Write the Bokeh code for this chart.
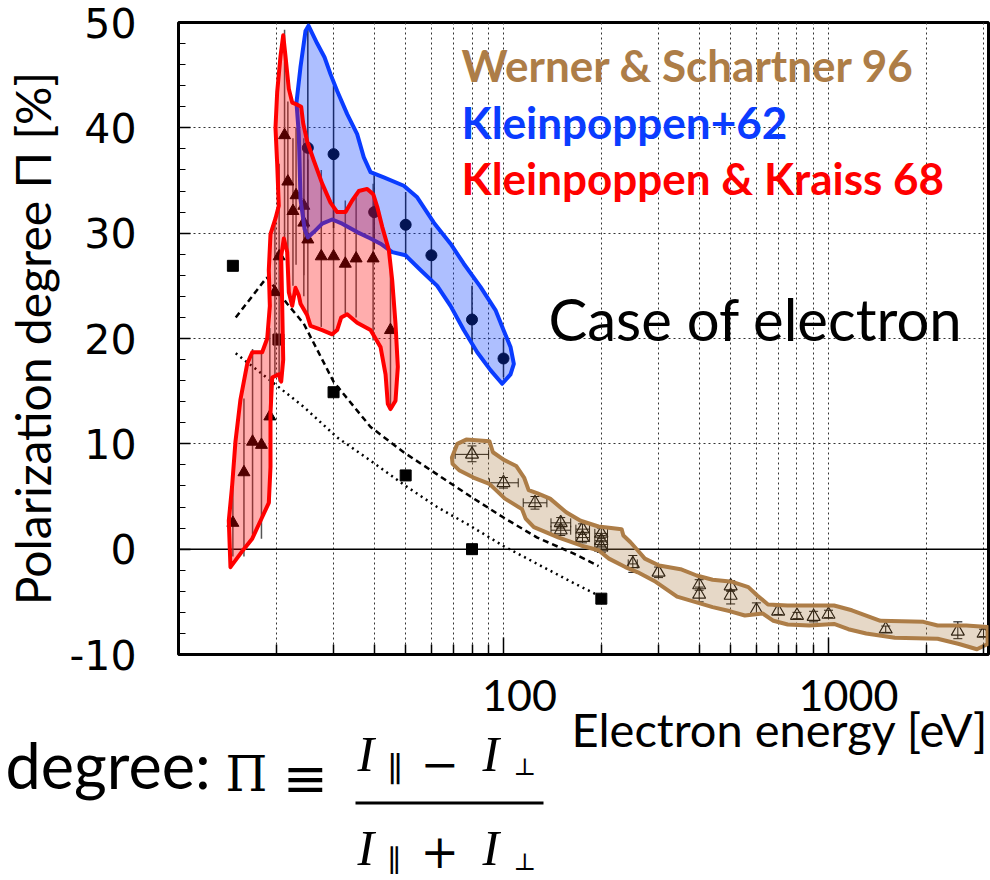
from bokeh.plotting import figure
from bokeh.layouts import column
from bokeh.models import (FixedTicker, Range1d, PrintfTickFormatter,
                          Label, Span, Whisker, TeeHead, ColumnDataSource, BoxAnnotation)
from bokeh.embed import file_html
from bokeh.resources import INLINE

# ---------------- ticks ----------------
x_major_ticks = [10, 100, 1000]
x_minor_ticks = [20, 30, 40, 50, 60, 70, 80, 90, 200, 300, 400, 500, 600, 700, 800, 900, 2000, 3000]
x_tick_labels = ["100", "1000"]
y_major_ticks = [-10, 0, 10, 20, 30, 40, 50]
y_minor_ticks = [-8, -6, -4, -2, 2, 4, 6, 8, 12, 14, 16, 18, 22, 24, 26, 28,
                 32, 34, 36, 38, 42, 44, 46, 48]

# ---------------- Kleinpoppen & Kraiss 68 (red) ----------------
kk_energy = [14.7, 15.9, 16.9, 18.0, 19.1, 19.8, 20.4, 21.2, 21.7, 22.5, 23.0, 24.3, 24.3, 25.0,
             27.5, 30.0, 32.6, 35.2, 39.7, 44.9]
kk_pol = [2.5, 7.3, 10.2, 9.9, 12.6, 24.4, 27.8, 39.3, 34.9, 32.1, 33.6, 32.6, 31.0, 29.4,
          27.8, 27.8, 27.1, 27.6, 27.6, 20.8]
kk_lo = [-0.7, -0.7, 1.4, 1.0, 4.4, 16.3, 15.9, 29.5, 27.0, 25.0, 27.0, 26.0, 24.0, 22.0,
         21.1, 20.1, 22.4, 22.0, 19.8, 13.5]
kk_hi = [6.1, 14.3, 19.0, 18.7, 21.0, 31.2, 36.6, 49.3, 42.5, 39.0, 40.0, 39.0, 38.0, 37.0,
         36.0, 37.2, 33.1, 33.4, 34.7, 27.5]
kk_band_energy = [14.45, 14.28, 14.63, 14.97, 15.51, 16.27, 16.86, 18.09, 18.75, 19.10, 18.96, 19.19,
                  19.88, 20.35, 20.12, 19.88, 20.12, 20.60, 21.00, 21.34, 21.85, 22.38, 23.19, 23.85,
                  24.20, 24.89, 26.08, 27.68, 29.36, 30.78, 32.65, 34.23, 35.86, 38.07, 39.73, 40.88,
                  42.35, 44.38, 45.46, 46.53, 47.30, 46.53, 44.91, 44.06, 43.36, 41.84, 38.98, 35.46,
                  33.04, 31.67, 30.78, 29.71, 27.68, 25.48, 24.89, 23.74, 23.45, 22.91, 22.38, 21.85,
                  21.60, 21.09, 20.70, 20.85, 21.00, 20.70, 20.35, 19.42, 19.19, 19.19, 18.96, 17.88,
                  16.86, 15.88]
kk_band_pol = [-1.7, 2.7, 6.1, 10.2, 14.2, 17.6, 18.7, 18.7, 20.0, 23.1, 26.5, 29.9,
               31.4, 32.6, 36.6, 40.0, 43.4, 46.8, 48.8, 46.8, 43.7, 42.4, 42.2, 42.0,
               40.4, 38.7, 36.9, 34.7, 32.9, 32.0, 32.0, 33.1, 34.0, 34.2, 33.7, 32.5,
               30.6, 28.4, 25.5, 21.4, 17.3, 14.1, 13.3, 13.8, 16.6, 19.2, 20.8, 21.5,
               22.3, 22.0, 20.8, 20.4, 20.8, 21.2, 22.2, 23.3, 24.1, 24.8, 23.1, 24.4,
               28.2, 29.5, 27.8, 23.1, 18.0, 15.9, 16.6, 16.3, 12.9, 7.8, 4.4, 2.7,
               1.0, 0.0]

# ---------------- Kleinpoppen+62 (blue) ----------------
k62_energy = [25, 30, 40, 50, 60, 80, 100]
k62_pol = [38.1, 37.5, 32.0, 30.8, 27.9, 21.8, 18.1]
k62_lo = [30.5, 30.5, 28.5, 27.7, 25.5, 18.5, 16.3]
k62_hi = [49.5, 44.0, 35.5, 33.9, 30.5, 25.0, 20.0]
k62_band_energy = [25.12, 26.72, 28.14, 29.36, 30.78, 33.04, 35.46, 37.17, 38.98, 42.82, 49.34, 54.26,
                   61.05, 68.71, 75.47, 84.96, 94.49, 100.0, 105.1, 107.6, 105.1, 99.08, 91.20, 83.01,
                   75.47, 68.71, 62.52, 55.54, 49.94, 45.46, 41.84, 38.98, 35.46, 31.89, 29.71, 27.68,
                   26.08, 24.99, 24.43, 23.74, 23.45, 23.07, 23.74, 24.59]
k62_band_pol = [49.7, 48.0, 46.7, 45.1, 43.5, 41.3, 39.4, 37.2, 35.8, 35.3, 34.5, 33.4,
                31.0, 29.0, 27.1, 24.9, 22.7, 20.8, 19.2, 17.6, 16.6, 15.7, 17.0, 18.7,
                20.8, 23.1, 25.0, 26.5, 27.9, 28.2, 29.0, 29.5, 30.1, 30.9, 31.3, 30.9,
                30.1, 29.6, 30.4, 33.2, 39.4, 42.4, 45.8, 49.2]

# ---------------- Werner & Schartner 96 (tan) ----------------
ws_energy = [80, 100, 125, 150, 150, 175, 175, 200, 200, 200, 250, 300, 400, 400, 500, 500,
             600, 700, 800, 900, 1000, 1500, 2500, 3000]
ws_pol = [9.0, 6.3, 4.4, 2.5, 1.8, 1.9, 1.1, 1.5, 0.8, 0.2, -1.4, -2.2, -3.4, -4.3, -3.5, -4.4,
          -5.8, -5.9, -6.3, -6.4, -6.2, -7.6, -7.8, -8.0]
ws_lo = [8.3, 5.8, 3.8, 2.0, 1.3, 1.4, 0.6, 1.0, 0.3, -0.3, -2.2, -2.7, -3.9, -5.0, -4.0, -5.2,
         -6.2, -6.2, -6.6, -6.9, -6.5, -7.9, -8.5, -8.3]
ws_hi = [9.8, 6.8, 5.0, 3.0, 2.3, 2.4, 1.6, 2.0, 1.3, 0.7, -0.6, -1.7, -2.9, -3.6, -3.0, -3.9,
         -5.1, -5.4, -6.0, -5.9, -5.8, -7.3, -6.9, -7.6]
ws_xerr_pol = [9.0, 6.3, 4.4, 2.5, 1.8, 1.9, 1.1, 1.5, 0.8, 0.2, -1.4]
ws_energy_lo = [71, 90.5, 115, 140, 140, 167, 167, 191, 191, 191, 242]
ws_energy_hi = [90, 111, 136, 161, 161, 184, 184, 209, 209, 209, 258]
ws_band_energy = [69.4, 72.1, 76.8, 90.5, 92.8, 100, 109.4, 115.7, 119.5, 127.3, 139.1, 155.9,
                  172.6, 195.9, 230.9, 233.8, 245.9, 258.6, 272.2, 301.2, 350.5, 392.9, 440.0, 505.8,
                  566.8, 603.8, 651.4, 748.6, 1040, 1180, 1445, 1959, 2166, 2653, 3087, 3087,
                  2862, 2522, 2166, 1600, 1306, 1151, 1040, 872, 749, 677, 627, 553,
                  499, 440, 388, 342, 294, 259, 237, 211, 196, 173, 148, 124,
                  117, 114, 101, 90.5, 80.8, 73.0, 69.7]
ws_band_pol = [8.7, 10.0, 10.4, 10.25, 9.2, 8.5, 7.9, 6.8, 5.6, 5.3, 4.8, 3.5,
               2.7, 2.15, 1.9, 1.3, 0.66, -0.1, -0.9, -1.55, -1.9, -2.5, -2.9, -3.1,
               -3.6, -4.4, -5.25, -5.35, -5.35, -5.8, -6.8, -6.9, -7.25, -7.25, -7.4, -9.0,
               -9.5, -9.0, -8.5, -8.4, -8.0, -7.6, -7.1, -7.25, -7.15, -6.8, -6.1, -6.3,
               -5.9, -5.5, -5.0, -4.5, -3.1, -2.2, -1.7, -0.9, -0.1, 0.35, 1.1, 2.1,
               2.9, 3.8, 4.8, 6.2, 6.8, 7.5, 8.1]

# ---------------- other data (squares) and theory curves ----------------
sq_energy = [14.7, 20.3, 30, 50, 80, 200]
sq_pol = [26.9, 19.9, 14.9, 7.0, 0.0, -4.7]
dash_energy = [15.0, 18.7, 21.6, 24.3, 30.0, 39.0, 49.3, 62.5, 79.2, 100, 127, 164, 196]
dash_pol = [22.0, 25.8, 23.3, 21.4, 15.9, 11.6, 9.2, 7.1, 5.0, 3.0, 1.1, -0.4, -1.6]
dot_energy = [15.0, 19.2, 24.3, 30.8, 39.0, 50.0, 62.5, 79.2, 100, 127, 164, 196]
dot_pol = [18.6, 16.0, 13.5, 10.6, 8.4, 6.0, 4.0, 2.2, 0.3, -1.4, -3.2, -4.4]

RED = "#ff0000"
BLUE = "#0a3cff"
TAN = "#ad7d47"

p = figure(width=990, height=690, x_axis_type="log",
           x_range=Range1d(10, 3107), y_range=Range1d(-10, 50),
           output_backend="svg", toolbar_location=None,
           min_border_left=178, min_border_right=2, min_border_top=22, min_border_bottom=36)
p.frame_align = False
p.background_fill_color = "white"
p.border_fill_color = "white"
p.outline_line_color = "black"
p.outline_line_width = 3

# x axis: ticks only (its labels are drawn in the strip below, offset as in the original)
xa = p.xaxis[0]
xa.ticker = FixedTicker(ticks=x_major_ticks, minor_ticks=x_minor_ticks)
xa.major_label_overrides = {t: "" for t in x_major_ticks}
xa.major_label_text_font_size = "1px"
xa.major_label_standoff = 0
xa.axis_line_color = None
xa.major_tick_in = 17
xa.major_tick_out = 0
xa.minor_tick_in = 10
xa.minor_tick_out = 0
xa.major_tick_line_width = 1.5
xa.minor_tick_line_width = 1.5

ya = p.yaxis[0]
ya.ticker = FixedTicker(ticks=y_major_ticks, minor_ticks=y_minor_ticks)
ya.formatter = PrintfTickFormatter(format="%d")
ya.axis_line_color = None
ya.major_tick_in = 12
ya.major_tick_out = 0
ya.minor_tick_in = 7
ya.minor_tick_out = 0
ya.major_tick_line_width = 1.5
ya.minor_tick_line_width = 1.2
ya.major_label_text_font = "DejaVu Sans"
ya.major_label_text_font_size = "41px"
ya.major_label_text_color = "black"
ya.major_label_standoff = 42
ya.axis_label = "Polarization degree Π [%]"
ya.axis_label_text_font = "Lato"
ya.axis_label_text_font_size = "48px"
ya.axis_label_text_font_style = "normal"
ya.axis_label_text_color = "black"
ya.axis_label_standoff = 6

for g in (p.xgrid[0], p.ygrid[0]):
    g.grid_line_color = "#333333"
    g.grid_line_dash = "2 3"
    g.grid_line_width = 1
p.xgrid[0].minor_grid_line_color = "#333333"
p.xgrid[0].minor_grid_line_dash = "2 3"
p.xgrid[0].minor_grid_line_width = 1

p.add_layout(Span(location=0, dimension="width", line_color="black", line_width=1.5, level="underlay"))

# theory curves and squares
p.line(dash_energy, dash_pol, line_color="black", line_width=2.5, line_dash="6 4")
p.line(dot_energy, dot_pol, line_color="black", line_width=2.5, line_dash="2 4")
p.scatter(sq_energy, sq_pol, marker="square", size=11, color="black")

# error bars and markers for Kleinpoppen data
p.segment(x0=kk_energy, y0=kk_lo, x1=kk_energy, y1=kk_hi, line_color="#555555", line_width=1.5)
p.segment(x0=k62_energy, y0=k62_lo, x1=k62_energy, y1=k62_hi, line_color="#222222", line_width=1.5)
p.scatter(kk_energy, kk_pol, marker="triangle", size=12, color="black")
p.scatter(k62_energy, k62_pol, marker="circle", size=11, color="black")

# bands
p.patch(k62_band_energy, k62_band_pol, fill_color=BLUE, fill_alpha=0.33,
        line_color=BLUE, line_width=4, line_join="round")
p.patch(kk_band_energy, kk_band_pol, fill_color=RED, fill_alpha=0.32,
        line_color=RED, line_width=4, line_join="round")

# Werner & Schartner
ws_src = ColumnDataSource(dict(e=ws_energy, lo=ws_lo, hi=ws_hi))
p.add_layout(Whisker(base="e", lower="lo", upper="hi", source=ws_src, dimension="height",
                     line_color="black", line_width=1,
                     upper_head=TeeHead(size=9, line_color="black", line_width=1),
                     lower_head=TeeHead(size=9, line_color="black", line_width=1)))
wsx_src = ColumnDataSource(dict(p=ws_xerr_pol, lo=ws_energy_lo, hi=ws_energy_hi))
p.add_layout(Whisker(base="p", lower="lo", upper="hi", source=wsx_src, dimension="width",
                     line_color="black", line_width=1,
                     upper_head=TeeHead(size=9, line_color="black", line_width=1),
                     lower_head=TeeHead(size=9, line_color="black", line_width=1)))
p.scatter(ws_energy, ws_pol, marker="triangle", size=13, fill_color=None,
          line_color="black", line_width=1.2)
p.patch(ws_band_energy, ws_band_pol, fill_color=TAN, fill_alpha=0.3,
        line_color=TAN, line_width=4, line_join="round")


def lab(fig, x, y, text, font="Lato", size="43px", style="normal", color="black", align="left"):
    fig.add_layout(Label(x=x, y=y, text=text, text_font=font, text_font_size=size,
                         text_font_style=style, text_color=color, text_align=align,
                         text_baseline="alphabetic"))


lab(p, 74.27, 45.96, "Werner & Schartner 96", size="44px", style="bold", color=TAN)
lab(p, 74.27, 40.55, "Kleinpoppen+62", size="44px", style="bold", color=BLUE)
lab(p, 74.27, 35.24, "Kleinpoppen & Kraiss 68", size="44px", style="bold", color=RED)
lab(p, 137.6, 21.94, "Case of electron", size="58px")

# ---------------- transparent strip overlapping the chart's bottom margin ----------------
p2 = figure(width=990, height=216, x_range=Range1d(0, 990), y_range=Range1d(216, 0),
            output_backend="svg", toolbar_location=None, min_border=0,
            x_axis_location=None, y_axis_location=None)
p2.frame_align = False
p2.margin = (-26, 0, 0, 0)
p2.outline_line_color = None
p2.grid.visible = False
p2.background_fill_color = None
p2.border_fill_color = None

lab(p2, 519, 31.4, x_tick_labels[0], size="43px", align="center")
lab(p2, 848, 31.4, x_tick_labels[1], size="43px", align="center")
lab(p2, 988, 64.7, "Electron energy [eV]", size="47px", align="right")
lab(p2, 5, 100.2, "degree:", size="63px")
lab(p2, 225, 109.2, "Π", font="DejaVu Serif", size="48px")
lab(p2, 282, 114.1, "≡", font="DejaVu Serif", size="54px")
# numerator
lab(p2, 357, 89.5, "I", font="Liberation Serif", size="50px", style="italic")
lab(p2, 387, 104.1, "∥", font="DejaVu Serif", size="34px")
lab(p2, 420, 98.9, "−", font="DejaVu Serif", size="46px")
lab(p2, 482, 89.5, "I", font="Liberation Serif", size="50px", style="italic")
lab(p2, 513, 102.6, "⊥", font="DejaVu Serif", size="24px")
# fraction bar
p2.add_layout(BoxAnnotation(left=355, right=543, top=137, bottom=140, fill_color="black",
                            fill_alpha=1, line_color=None))
# denominator
lab(p2, 357, 183.5, "I", font="Liberation Serif", size="50px", style="italic")
lab(p2, 387, 195.5, "∥", font="DejaVu Serif", size="30px")
lab(p2, 420, 186.9, "+", font="DejaVu Serif", size="46px")
lab(p2, 482, 183.5, "I", font="Liberation Serif", size="50px", style="italic")
lab(p2, 513, 197.6, "⊥", font="DejaVu Serif", size="24px")

open("out.html", "w").write(file_html(column(p, p2), INLINE))
